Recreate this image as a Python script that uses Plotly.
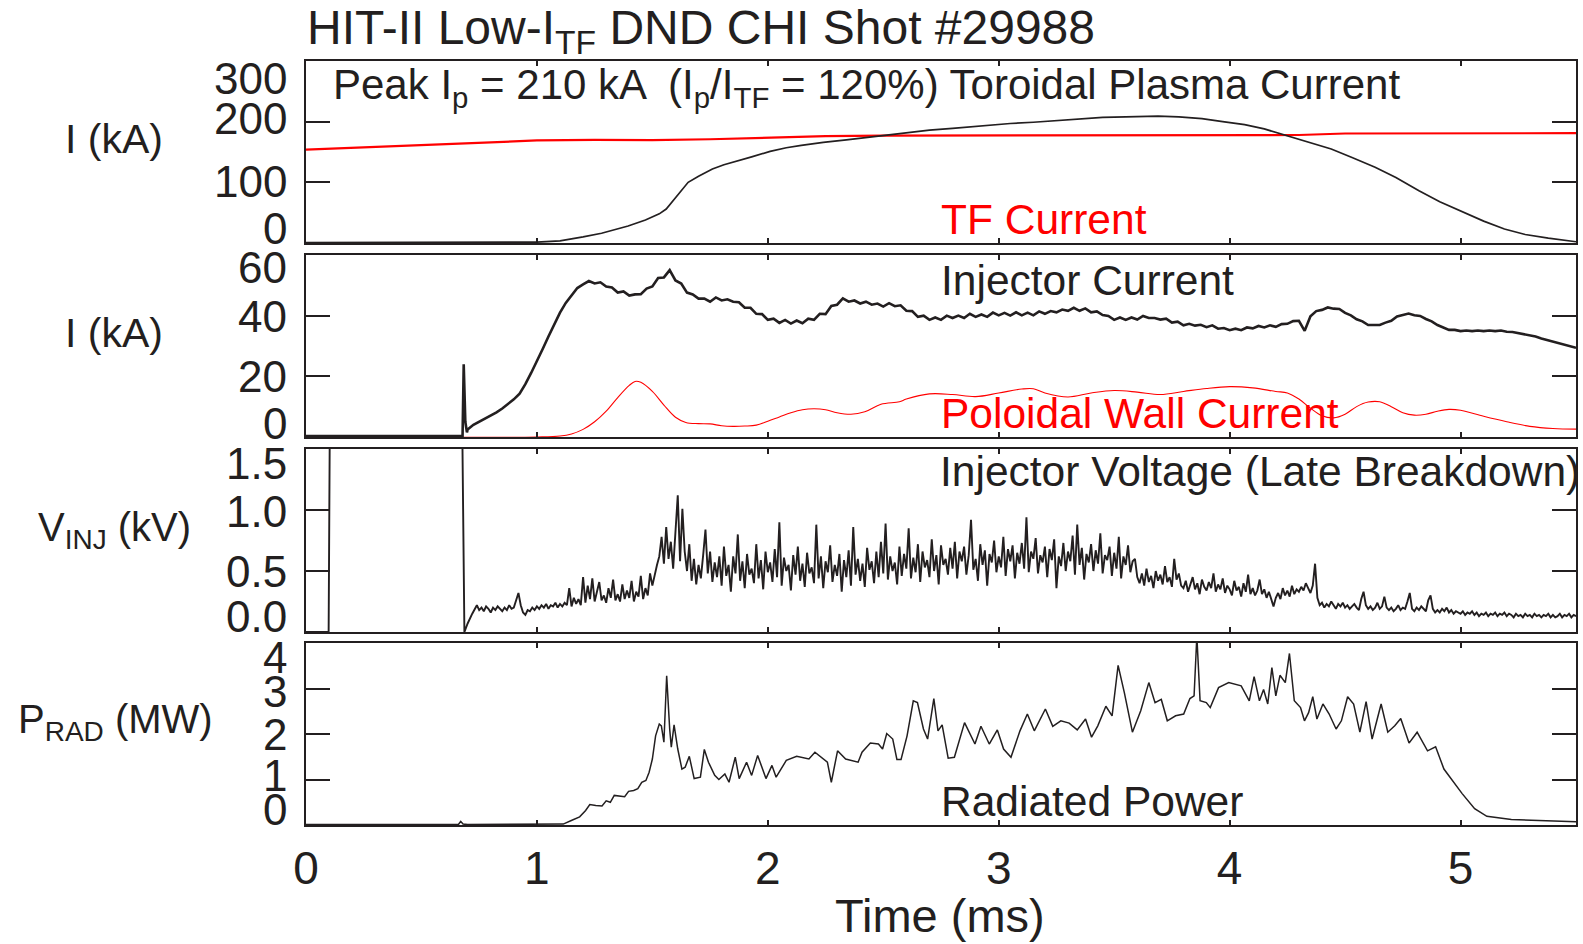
import plotly.graph_objects as go

FONT = "Liberation Sans, Arial, Helvetica, sans-serif"
INK = "#231f20"
RED = "#ff0000"

# ---------------- data ----------------
# Panel 1: toroidal plasma current (kA) and TF current (kA)
ip_t = [0.0, 0.5, 0.9, 1.0, 1.1, 1.145, 1.2, 1.28, 1.35, 1.395, 1.47, 1.53, 1.56, 1.59, 1.62,
        1.655, 1.7, 1.76, 1.81, 1.86, 1.93, 2.01, 2.08, 2.145, 2.24, 2.34, 2.43, 2.51, 2.6, 2.7,
        2.8, 2.94, 3.05, 3.15, 3.315, 3.45, 3.55, 3.69, 3.78, 3.88, 3.97, 4.065, 4.15, 4.25, 4.35,
        4.44, 4.53, 4.63, 4.72, 4.82, 4.91, 5.005, 5.1, 5.19, 5.28, 5.38, 5.45, 5.5]
ip_kA = [0.5, 0.5, 1.0, 1.5, 3.5, 6, 10, 16, 23, 28, 38, 48, 56, 70, 85,
         100, 110, 122, 129, 134, 142, 151, 157, 161, 166, 170, 174, 178, 182, 186,
         189, 194, 197, 199, 204, 207, 208, 209, 208, 205, 200, 195, 188, 177, 166,
         155, 141, 125, 108, 86, 68, 52, 36, 23, 14, 8, 4, 2]
itf_t = [0.0, 0.25, 0.5, 0.75, 1.0, 1.25, 1.5, 1.75, 2.0, 2.25, 2.5, 3.0, 3.5, 4.0, 4.3, 4.5, 5.0, 5.5]
itf_kA = [154, 158, 162, 166, 169, 170, 169.5, 171, 174, 176, 177, 177, 177, 177.5, 178, 180.5, 181, 181]

# Panel 2: injector current (kA), poloidal wall current (kA)
iinj_pre_t = [0.0, 0.3, 0.678, 0.683, 0.69, 0.697]
iinj_pre_kA = [0.3, 0.3, 0.3, 24.0, 5.0, 1.5]
IINJ_T0 = 0.70
IINJ_DT = 0.025
iinj_kA = [2.5, 4.0, 5.0, 6.1, 7.0, 8.1, 9.4, 10.9, 12.4, 14.3,
           17.4, 21.1, 24.9, 29.0, 33.1, 37.0, 41.0, 44.2, 46.8, 49.1,
           50.3, 51.4, 50.6, 51.0, 49.6, 49.3, 47.6, 48.0, 46.6, 47.0,
           47.1, 48.9, 49.6, 52.4, 52.6, 55.0, 51.6, 50.6, 47.6, 47.0,
           45.6, 45.6, 44.6, 46.0, 45.0, 45.4, 44.6, 44.4, 42.6, 42.6,
           40.6, 40.5, 38.6, 39.0, 37.6, 38.6, 37.4, 38.4, 37.5, 39.0,
           38.6, 40.6, 40.5, 43.2, 43.6, 45.7, 44.6, 45.0, 44.0, 44.6,
           43.6, 44.0, 43.0, 44.1, 43.1, 43.4, 41.6, 41.5, 39.6, 40.0,
           38.6, 39.4, 38.6, 40.0, 39.2, 40.0, 39.2, 40.6, 39.6, 40.4,
           39.6, 41.0, 40.1, 40.9, 40.0, 41.1, 40.1, 41.0, 40.1, 41.4,
           40.6, 41.5, 41.1, 42.0, 41.6, 42.6, 41.6, 42.4, 41.1, 41.4,
           40.2, 39.9, 38.6, 39.4, 38.6, 39.4, 38.7, 39.9, 39.2, 39.2,
           38.7, 39.0, 37.7, 38.0, 36.8, 37.3, 36.7, 37.0, 36.2, 36.8,
           35.7, 35.9, 35.2, 35.7, 35.2, 36.1, 35.8, 36.6, 36.1, 36.8,
           36.3, 37.2, 37.3, 38.2, 38.3, 35.0, 39.8, 41.5, 41.9, 42.7,
           42.3, 42.2, 40.9, 40.1, 38.8, 38.1, 36.9, 36.8, 36.9, 37.7,
           38.3, 39.7, 40.1, 40.7, 40.1, 39.9, 38.9, 38.1, 36.9, 36.1,
           35.3, 35.3, 34.9, 35.1, 34.9, 35.1, 34.9, 35.1, 34.9, 35.1,
           34.7, 34.6, 34.2, 34.0, 33.4, 33.1, 32.5, 32.0, 31.5, 31.0,
           30.5, 29.9, 29.4]
ipw_t = [0.0, 1.0, 1.1, 1.15, 1.2, 1.25, 1.3, 1.35, 1.4, 1.425, 1.45, 1.5, 1.55, 1.6, 1.645,
         1.7, 1.75, 1.8, 1.85, 1.9, 1.95, 2.0, 2.05, 2.1, 2.15, 2.2, 2.25, 2.3, 2.36, 2.42,
         2.49, 2.57, 2.6, 2.7, 2.8, 2.9, 3.0, 3.1, 3.15, 3.2, 3.3, 3.4, 3.5, 3.6, 3.7, 3.8,
         3.9, 4.0, 4.1, 4.2, 4.25, 4.3, 4.35, 4.4, 4.45, 4.5, 4.55, 4.6, 4.65, 4.7, 4.75, 4.8,
         4.85, 4.9, 4.95, 5.0, 5.1, 5.2, 5.3, 5.4, 5.5]
ipw_kA = [0.0, 0.0, 0.3, 1.0, 2.5, 5.0, 8.5, 13.0, 17.0, 18.3, 18.0, 15.0, 10.5, 6.5, 4.8,
          4.4, 4.3, 3.7, 3.5, 3.6, 3.9, 5.2, 6.6, 8.0, 9.0, 9.3, 9.0, 8.0, 7.5, 8.3,
          10.8, 11.6, 12.5, 14.2, 14.0, 13.3, 14.5, 15.8, 15.9, 14.5, 13.2, 14.5, 15.3, 14.8, 14.0, 15.0,
          16.0, 16.6, 16.2, 15.0, 14.5, 12.5, 9.5, 7.0, 6.3, 7.5, 10.0, 11.5, 11.6, 10.0, 8.0, 7.2,
          7.5, 8.5, 9.1, 8.8, 6.8, 5.0, 3.5, 2.8, 2.6]

# Panel 3: injector voltage (kV)
vinj_pre_t = [0.0, 0.098, 0.104, 0.675, 0.686, 0.70, 0.72]
vinj_pre_kV = [0.0, 0.0, 2.0, 2.0, 0.0, 0.07, 0.15]
VINJ_T0 = 0.74
VINJ_DT = 0.01
vinj_kV = [0.22, 0.18, 0.20, 0.17, 0.21, 0.19,
           0.16, 0.20, 0.18, 0.21, 0.19, 0.17, 0.20, 0.18, 0.22, 0.19,
           0.20, 0.26, 0.32, 0.22, 0.16, 0.14, 0.18, 0.17, 0.20, 0.18,
           0.21, 0.19, 0.22, 0.20, 0.23, 0.19, 0.22, 0.21, 0.24, 0.20,
           0.23, 0.21, 0.24, 0.22, 0.36, 0.21, 0.28, 0.23, 0.27, 0.22,
           0.45, 0.24, 0.38, 0.27, 0.44, 0.25, 0.33, 0.41, 0.26, 0.30,
           0.24, 0.36, 0.28, 0.43, 0.26, 0.31, 0.25, 0.39, 0.27, 0.34,
           0.28, 0.42, 0.25, 0.33, 0.29, 0.46, 0.27, 0.36, 0.30, 0.48,
           0.38, 0.47, 0.55, 0.62, 0.78, 0.56, 0.86, 0.60, 0.74, 0.52,
           0.80, 1.12, 0.58, 1.01, 0.66, 0.50, 0.72, 0.42, 0.60, 0.39,
           0.55, 0.44, 0.63, 0.84, 0.48, 0.66, 0.41, 0.57, 0.45, 0.62,
           0.38, 0.70, 0.46, 0.55, 0.33, 0.62, 0.48, 0.80, 0.42, 0.58,
           0.36, 0.64, 0.47, 0.52, 0.40, 0.72, 0.44, 0.59, 0.35, 0.66,
           0.49, 0.57, 0.41, 0.68, 0.45, 0.90, 0.38, 0.61, 0.50, 0.55,
           0.34, 0.63, 0.47, 0.70, 0.42, 0.56, 0.37, 0.65, 0.48, 0.53,
           0.40, 0.88, 0.44, 0.62, 0.36, 0.58, 0.49, 0.71, 0.41, 0.55,
           0.46, 0.64, 0.33, 0.59, 0.45, 0.67, 0.38, 0.86, 0.47, 0.60,
           0.42, 0.56, 0.37, 0.69, 0.51, 0.58, 0.40, 0.66, 0.45, 0.74,
           0.48, 0.89, 0.43, 0.62, 0.50, 0.57, 0.39, 0.70, 0.46, 0.64,
           0.52, 0.85, 0.44, 0.61, 0.49, 0.72, 0.41, 0.66, 0.53, 0.59,
           0.45, 0.76, 0.50, 0.63, 0.39, 0.71, 0.55, 0.60, 0.47, 0.69,
           0.52, 0.74, 0.44, 0.66, 0.58, 0.70, 0.47, 0.63, 0.92, 0.51,
           0.60, 0.42, 0.72, 0.55, 0.67, 0.38, 0.64, 0.57, 0.75, 0.49,
           0.62, 0.53, 0.78, 0.46, 0.68, 0.58, 0.71, 0.44, 0.65, 0.56,
           0.73, 0.52, 0.94, 0.49, 0.66, 0.60, 0.77, 0.48, 0.63, 0.57,
           0.70, 0.45, 0.68, 0.59, 0.76, 0.36, 0.62, 0.54, 0.73, 0.50,
           0.66, 0.58, 0.79, 0.47, 0.88, 0.55, 0.69, 0.43, 0.64, 0.57,
           0.72, 0.50, 0.67, 0.56, 0.81, 0.48, 0.63, 0.59, 0.70, 0.46,
           0.65, 0.52, 0.78, 0.44, 0.62, 0.55, 0.71, 0.49, 0.58, 0.60,
           0.45, 0.40, 0.48, 0.38, 0.52, 0.41, 0.46, 0.36, 0.50, 0.42,
           0.47, 0.39, 0.54, 0.41, 0.45, 0.37, 0.60, 0.43, 0.48, 0.38,
           0.36, 0.42, 0.33, 0.39, 0.45, 0.35, 0.40, 0.31, 0.43, 0.37,
           0.34, 0.41, 0.36, 0.48, 0.33, 0.39, 0.35, 0.44, 0.32, 0.38,
           0.35, 0.30, 0.42, 0.34, 0.37, 0.29, 0.40, 0.33, 0.47, 0.31,
           0.36, 0.30, 0.34, 0.43, 0.31, 0.35, 0.28, 0.33, 0.26, 0.21,
           0.28, 0.32, 0.27, 0.36, 0.30, 0.34, 0.29, 0.38, 0.31, 0.35,
           0.33, 0.37, 0.34, 0.40, 0.36, 0.32, 0.38, 0.56, 0.28, 0.22,
           0.24, 0.20, 0.23, 0.21, 0.25, 0.22, 0.19, 0.23, 0.21, 0.24,
           0.20, 0.22, 0.19, 0.21, 0.23, 0.20, 0.18, 0.27, 0.33, 0.22,
           0.19, 0.21, 0.18, 0.20, 0.24, 0.19, 0.21, 0.29, 0.20, 0.18,
           0.20, 0.17, 0.19, 0.22, 0.18, 0.20, 0.19, 0.25, 0.32, 0.19,
           0.17, 0.20, 0.18, 0.21, 0.19, 0.17, 0.26, 0.30, 0.19, 0.16,
           0.18, 0.16, 0.19, 0.17, 0.20, 0.16, 0.18, 0.15, 0.17, 0.16,
           0.15, 0.17, 0.14, 0.16, 0.15, 0.17, 0.14, 0.16, 0.13, 0.15,
           0.14, 0.16, 0.13, 0.15, 0.14, 0.16, 0.13, 0.15, 0.14, 0.16,
           0.13, 0.15, 0.14, 0.12, 0.15, 0.13, 0.14, 0.12, 0.15, 0.13,
           0.14, 0.12, 0.15, 0.13, 0.14, 0.12, 0.14, 0.13, 0.15, 0.12,
           0.14, 0.12, 0.13, 0.15, 0.12, 0.14, 0.13, 0.15, 0.12, 0.14,
           0.13]

# Panel 4: radiated power (MW)
prad_t = [0.0, 0.66, 0.67, 0.68, 0.70, 1.114, 1.149, 1.185, 1.211, 1.229, 1.255, 1.282, 1.300,
          1.318, 1.335, 1.362, 1.380, 1.397, 1.419, 1.437, 1.454, 1.472, 1.486, 1.500, 1.514,
          1.530, 1.539, 1.550, 1.562, 1.575, 1.582, 1.594, 1.610, 1.628, 1.642, 1.660, 1.681,
          1.708, 1.725, 1.743, 1.770, 1.788, 1.814, 1.832, 1.859, 1.876, 1.908, 1.930, 1.956,
          1.992, 2.018, 2.036, 2.080, 2.125, 2.178, 2.204, 2.231, 2.258, 2.275, 2.302, 2.337,
          2.391, 2.408, 2.444, 2.479, 2.497, 2.515, 2.541, 2.559, 2.577, 2.603, 2.630, 2.648,
          2.674, 2.692, 2.719, 2.737, 2.755, 2.781, 2.808, 2.852, 2.897, 2.923, 2.959, 2.994,
          3.021, 3.053, 3.092, 3.124, 3.154, 3.202, 3.234, 3.269, 3.305, 3.340, 3.376, 3.402,
          3.429, 3.464, 3.491, 3.517, 3.544, 3.579, 3.615, 3.650, 3.677, 3.704, 3.730, 3.766,
          3.801, 3.828, 3.846, 3.858, 3.872, 3.899, 3.916, 3.952, 3.996, 4.050, 4.085, 4.106,
          4.129, 4.147, 4.165, 4.183, 4.200, 4.218, 4.241, 4.259, 4.280, 4.307, 4.324, 4.342,
          4.360, 4.378, 4.404, 4.431, 4.461, 4.484, 4.511, 4.537, 4.564, 4.591, 4.617, 4.656,
          4.685, 4.715, 4.741, 4.777, 4.812, 4.857, 4.892, 4.928, 4.954, 5.007, 5.061, 5.114,
          5.220, 5.398, 5.504]
prad_MW = [0.01, 0.01, 0.08, 0.02, 0.01, 0.02, 0.10, 0.18, 0.32, 0.45, 0.43, 0.42, 0.53,
           0.50, 0.65, 0.64, 0.62, 0.74, 0.76, 0.80, 0.94, 0.98, 1.16, 1.45, 1.96,
           2.22, 2.18, 1.82, 3.28, 2.11, 1.71, 2.20, 1.67, 1.23, 1.27, 1.51, 1.02,
           1.05, 1.66, 1.38, 1.09, 1.00, 1.12, 0.94, 1.49, 1.02, 1.38, 1.09, 1.53,
           1.02, 1.31, 1.05, 1.42, 1.51, 1.45, 1.60, 1.49, 1.38, 0.94, 1.63, 1.45,
           1.38, 1.60, 1.80, 1.78, 1.67, 2.01, 1.89, 1.44, 1.44, 1.96, 2.73, 2.69,
           2.11, 1.89, 2.78, 2.07, 2.20, 1.47, 1.49, 2.25, 1.78, 2.17, 1.78, 2.09,
           1.67, 1.49, 2.07, 2.44, 2.07, 2.55, 2.17, 2.29, 2.24, 2.09, 2.33, 1.93,
           2.18, 2.61, 2.40, 3.51, 2.91, 2.04, 2.51, 3.13, 2.69, 2.76, 2.29, 2.40,
           2.44, 2.78, 2.84, 4.15, 2.73, 2.69, 2.58, 3.02, 3.13, 3.06, 2.73, 3.26,
           2.73, 2.98, 2.66, 3.46, 2.84, 3.29, 3.13, 3.77, 2.73, 2.58, 2.29, 2.47,
           2.82, 2.33, 2.66, 2.44, 2.11, 2.29, 2.82, 2.66, 2.04, 2.71, 1.89, 2.66,
           2.04, 2.18, 2.34, 1.80, 2.04, 1.63, 1.72, 1.23, 1.05, 0.69, 0.36, 0.19,
           0.12, 0.08, 0.07]

# axis ticks / labels
x_ticks = [0, 1, 2, 3, 4, 5]
y1_ticks, y1_text = [0, 100, 200, 300], ["0", "100", "200", "300"]
y2_ticks, y2_text = [0, 20, 40, 60], ["0", "20", "40", "60"]
y3_ticks, y3_text = [0.0, 0.5, 1.0, 1.5], ["0.0", "0.5", "1.0", "1.5"]
y4_ticks, y4_text = [0, 1, 2, 3, 4], ["0", "1", "2", "3", "4"]

# ---------------- figure ----------------
iinj_t = iinj_pre_t + [round(IINJ_T0 + i * IINJ_DT, 4) for i in range(len(iinj_kA))]
iinj_all = iinj_pre_kA + iinj_kA
vinj_t = vinj_pre_t + [round(VINJ_T0 + i * VINJ_DT, 4) for i in range(len(vinj_kV))]
vinj_all = vinj_pre_kV + vinj_kV

fig = go.Figure()
fig.add_trace(go.Scatter(x=itf_t, y=itf_kA, mode="lines", line=dict(color=RED, width=2.2),
                         xaxis="x", yaxis="y"))
fig.add_trace(go.Scatter(x=ip_t, y=ip_kA, mode="lines", line=dict(color=INK, width=1.7),
                         xaxis="x", yaxis="y"))
fig.add_trace(go.Scatter(x=ipw_t, y=ipw_kA, mode="lines", line=dict(color=RED, width=1.1, shape="spline"),
                         xaxis="x2", yaxis="y2"))
fig.add_trace(go.Scatter(x=iinj_t, y=iinj_all, mode="lines", line=dict(color=INK, width=2.6),
                         xaxis="x2", yaxis="y2"))
fig.add_trace(go.Scatter(x=vinj_t, y=vinj_all, mode="lines", line=dict(color=INK, width=1.9),
                         xaxis="x3", yaxis="y3"))
fig.add_trace(go.Scatter(x=prad_t, y=prad_MW, mode="lines", line=dict(color=INK, width=1.5),
                         xaxis="x4", yaxis="y4"))

frame = dict(showgrid=False, zeroline=False, showline=True, linecolor=INK, linewidth=1.6,
             mirror="ticks", ticks="inside", tickcolor=INK, tickwidth=1.5)

domains = [[0.7618, 1.0], [0.5079, 0.7461], [0.2526, 0.4921], [0.0, 0.2382]]
yranges = [[0, 300], [0, 60], [0, 1.5], [0, 4]]
yticks = [y1_ticks, y2_ticks, y3_ticks, y4_ticks]

layout = dict(width=1583, height=944, margin=dict(l=306, r=5, t=61, b=119),
              paper_bgcolor="white", plot_bgcolor="white", showlegend=False,
              font=dict(family=FONT, color=INK, size=40))
for i in range(4):
    sfx = "" if i == 0 else str(i + 1)
    xa = dict(frame, range=[0, 5.5], tickvals=x_ticks, ticklen=5, anchor="y" + sfx,
              showticklabels=(i == 3))
    if i > 0:
        xa["matches"] = "x"
    if i == 3:
        xa.update(tickfont=dict(size=46, family=FONT, color=INK), ticklabelstandoff=2)
    layout["xaxis" + sfx] = xa
    layout["yaxis" + sfx] = dict(frame, range=yranges[i], tickvals=yticks[i], ticklen=24,
                                 domain=domains[i], anchor="x" + sfx, showticklabels=False)

annotations = []
# y tick labels (the end labels sit nudged inside the frame, as in the original)
tick_sets = [(y1_ticks, y1_text, "y"), (y2_ticks, y2_text, "y2"),
             (y3_ticks, y3_text, "y3"), (y4_ticks, y4_text, "y4")]
yshifts = [[14, 1, 3, -17], [13, 0, -1, -13], [16, 0, -1, -14], [15, 4, 0, -3, -14]]
for (vals, texts, yref), sh in zip(tick_sets, yshifts):
    for v, t, ys in zip(vals, texts, sh):
        annotations.append(dict(x=0, xref="paper", xanchor="right", xshift=-17, y=v, yref=yref,
                                yanchor="middle", yshift=ys, text=t, showarrow=False,
                                font=dict(size=44, family=FONT, color=INK)))


def px_x(p):
    return (p - 306) / 1272


def px_y(p):
    return (825 - p) / 764


def note(text, x, y, size, color=INK, xanchor="left"):
    annotations.append(dict(x=px_x(x), y=px_y(y), xref="paper", yref="paper", xanchor=xanchor,
                            yanchor="middle", text=text, showarrow=False,
                            font=dict(size=size, family=FONT, color=color)))


note("HIT-II Low-I<sub>TF</sub> DND CHI Shot #29988", 305, 31, 48)
note("Peak I<sub>p</sub> = 210 kA  (I<sub>p</sub>/I<sub>TF</sub> = 120%) Toroidal Plasma Current",
     331, 87, 42)
note("TF Current", 940, 220, 42.5, RED)
note("Injector Current", 940, 280, 42.5)
note("Poloidal Wall Current", 940, 413, 42.5, RED)
note("Injector Voltage (Late Breakdown)", 1584, 471, 42.5, xanchor="right")
note("Radiated Power", 940, 801, 42.5)
note("I (kA)", 114, 139, 41, xanchor="center")
note("I (kA)", 114, 333, 41, xanchor="center")
note("V<sub>INJ</sub> (kV)", 114, 530, 40, xanchor="center")
note("P<sub>RAD</sub> (MW)", 115, 722, 40, xanchor="center")
note("Time (ms)", 941, 915, 47, xanchor="center")

layout["annotations"] = annotations
fig.update_layout(**layout)
fig.write_html("out.html")
